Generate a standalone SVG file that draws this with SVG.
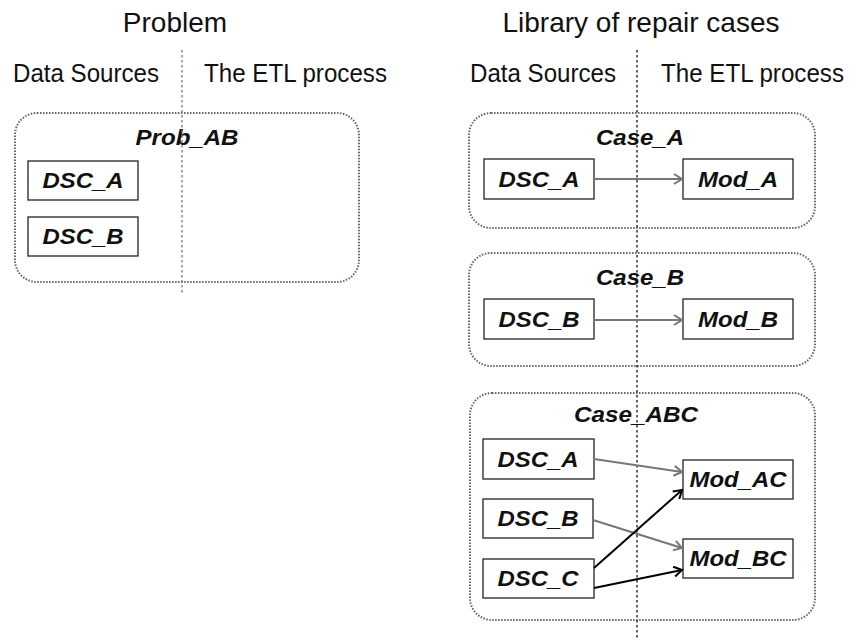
<svg xmlns="http://www.w3.org/2000/svg" width="859" height="638" viewBox="0 0 859 638">
<defs>
<style>
.title{font-family:"Liberation Sans",Arial,sans-serif;font-size:28px;fill:#111;text-anchor:middle}
.lab{font-family:"Liberation Sans",Arial,sans-serif;font-size:26px;fill:#111}
.nt{font-family:"Liberation Sans",Arial,sans-serif;font-size:22px;font-weight:bold;font-style:italic;fill:#111;text-anchor:middle}
.box{fill:#fff;stroke:#222;stroke-width:1.3}
.grp{fill:none;stroke:#666;stroke-width:2;stroke-dasharray:1.5 1.5}
.sep{stroke-width:1.3;stroke-dasharray:2.5 2.5}
.ga{fill:none;stroke:#777;stroke-width:2;marker-end:url(#mg)}
.ba{fill:none;stroke:#000;stroke-width:2;marker-end:url(#mb)}
</style>
<marker id="mg" markerWidth="12" markerHeight="12" refX="10" refY="6" orient="auto" markerUnits="userSpaceOnUse">
<path d="M2,1 L10,6 L2,11" fill="none" stroke="#777" stroke-width="2"/>
</marker>
<marker id="mb" markerWidth="12" markerHeight="12" refX="10" refY="6" orient="auto" markerUnits="userSpaceOnUse">
<path d="M2,1 L10,6 L2,11" fill="none" stroke="#000" stroke-width="2"/>
</marker>
</defs>
<rect width="859" height="638" fill="#fff"/>
<g id="headers">
<text class="title" x="175" y="32">Problem</text>
<text class="title" x="641" y="32">Library of repair cases</text>
<text class="lab" x="13" y="82" textLength="146" lengthAdjust="spacingAndGlyphs">Data Sources</text>
<text class="lab" x="204" y="82" textLength="183" lengthAdjust="spacingAndGlyphs">The ETL process</text>
<text class="lab" x="470" y="82" textLength="146" lengthAdjust="spacingAndGlyphs">Data Sources</text>
<text class="lab" x="661" y="82" textLength="183" lengthAdjust="spacingAndGlyphs">The ETL process</text>
</g>
<g id="prob_ab">
<rect class="grp" x="15" y="113" width="344" height="169" rx="22"/>
<text class="nt" x="187" y="145" textLength="103" lengthAdjust="spacingAndGlyphs">Prob_AB</text>
</g>
<g id="case_a"><rect class="grp" x="469" y="113" width="346" height="115" rx="22"/><text class="nt" x="640" y="145" textLength="88" lengthAdjust="spacingAndGlyphs">Case_A</text></g>
<g id="case_b"><rect class="grp" x="469" y="253" width="346" height="113" rx="22"/><text class="nt" x="640" y="285" textLength="88" lengthAdjust="spacingAndGlyphs">Case_B</text></g>
<g id="case_abc"><rect class="grp" x="470" y="393" width="345" height="227" rx="22"/><text class="nt" x="636" y="422" textLength="124" lengthAdjust="spacingAndGlyphs">Case_ABC</text></g>
<g id="separators">
<line class="sep" x1="182" y1="50" x2="182" y2="295" stroke="#777"/>
<line class="sep" x1="637" y1="50" x2="637" y2="638" stroke="#111"/>
</g>
<g id="p_dsc_a"><rect class="box" x="28" y="161" width="110" height="39"/><text class="nt" x="83" y="188" textLength="81" lengthAdjust="spacingAndGlyphs">DSC_A</text></g>
<g id="p_dsc_b"><rect class="box" x="28" y="217" width="110" height="39"/><text class="nt" x="83" y="244" textLength="81" lengthAdjust="spacingAndGlyphs">DSC_B</text></g>
<g id="a_dsc_a"><rect class="box" x="484" y="159" width="110" height="40"/><text class="nt" x="539" y="187" textLength="81" lengthAdjust="spacingAndGlyphs">DSC_A</text></g>
<g id="a_mod_a"><rect class="box" x="683" y="159" width="110" height="40"/><text class="nt" x="738" y="187" textLength="80" lengthAdjust="spacingAndGlyphs">Mod_A</text></g>
<g id="b_dsc_b"><rect class="box" x="484" y="299" width="110" height="40"/><text class="nt" x="539" y="327" textLength="81" lengthAdjust="spacingAndGlyphs">DSC_B</text></g>
<g id="b_mod_b"><rect class="box" x="683" y="299" width="110" height="40"/><text class="nt" x="738" y="327" textLength="80" lengthAdjust="spacingAndGlyphs">Mod_B</text></g>
<g id="c_dsc_a"><rect class="box" x="483" y="439" width="111" height="40"/><text class="nt" x="538" y="467" textLength="81" lengthAdjust="spacingAndGlyphs">DSC_A</text></g>
<g id="c_dsc_b"><rect class="box" x="483" y="499" width="110" height="39"/><text class="nt" x="538" y="526" textLength="81" lengthAdjust="spacingAndGlyphs">DSC_B</text></g>
<g id="c_dsc_c"><rect class="box" x="483" y="559" width="111" height="39"/><text class="nt" x="538" y="586" textLength="81" lengthAdjust="spacingAndGlyphs">DSC_C</text></g>
<g id="c_mod_ac"><rect class="box" x="683" y="460" width="110" height="39"/><text class="nt" x="738" y="487" textLength="97" lengthAdjust="spacingAndGlyphs">Mod_AC</text></g>
<g id="c_mod_bc"><rect class="box" x="683" y="539" width="110" height="39"/><text class="nt" x="738" y="566" textLength="97" lengthAdjust="spacingAndGlyphs">Mod_BC</text></g>
<g id="connectors">
<line class="ga" x1="594" y1="179" x2="682" y2="179"/>
<line class="ga" x1="594" y1="320" x2="682" y2="320"/>
<line class="ga" x1="594" y1="459" x2="682" y2="472"/>
<line class="ga" x1="593" y1="520" x2="682" y2="548"/>
<line class="ba" x1="594" y1="568" x2="682" y2="490"/>
<line class="ba" x1="594" y1="588" x2="682" y2="570"/>
</g>
</svg>
